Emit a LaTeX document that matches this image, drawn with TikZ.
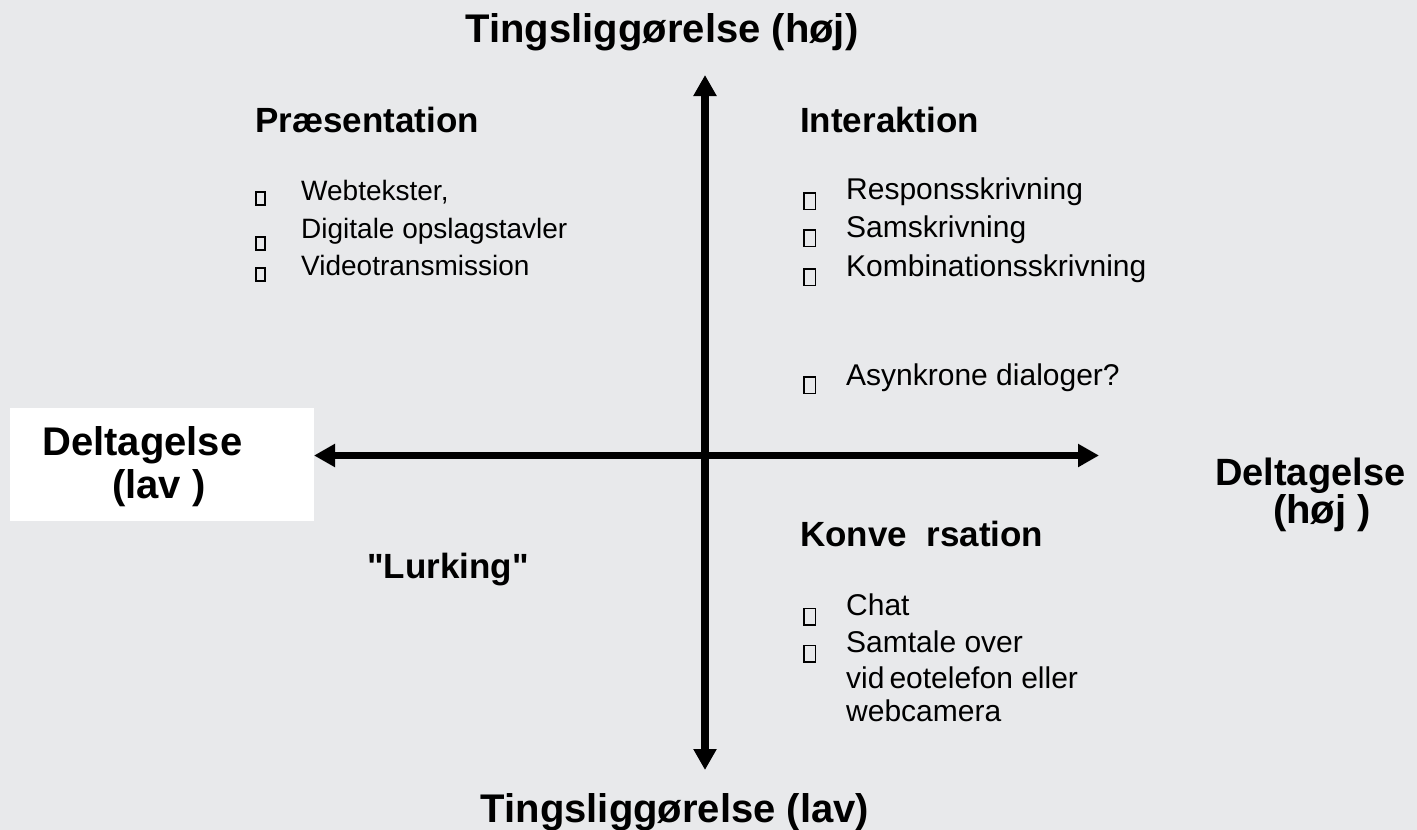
\documentclass[tikz,border=0pt]{standalone}
\usepackage{fontspec}
\setmainfont{Liberation Sans}[Ligatures=TeXOff]
\usetikzlibrary{arrows.meta}
\definecolor{bg}{RGB}{232,233,235}
\begin{document}
\begin{tikzpicture}[x=1pt,y=-1pt,
  big/.style={font=\fontsize{40}{48}\selectfont\bfseries, inner sep=0},
  head/.style={font=\fontsize{35}{42}\selectfont\bfseries, inner sep=0, anchor=base west},
  itemL/.style={font=\fontsize{28}{34}\selectfont, inner sep=0, anchor=base west},
  itemR/.style={font=\fontsize{30}{36}\selectfont, inner sep=0, anchor=base west},
  boxL/.style={draw, line width=1.3pt, minimum width=9pt, minimum height=13pt, inner sep=0},
  boxR/.style={draw, line width=1.5pt, minimum width=11.5pt, minimum height=16.5pt, inner sep=0},
  axis/.style={line width=7.5pt, {Triangle[length=21pt,width=22pt]}-{Triangle[length=21pt,width=22pt]}}
]
\fill[bg] (0,0) rectangle (1417,830);
\useasboundingbox (0,0) rectangle (1417,830);
\fill[white] (10,408) rectangle (314,521);

% axes
\coordinate (vt) at (705,75);
\coordinate (vb) at (705,770);
\coordinate (hl) at (314,455.5);
\coordinate (hr) at (1099,455.5);
\draw[axis] (vb) -- (vt);
\draw[axis] (hl) -- (hr);

% axis labels
\node[big, anchor=base] (ttop) at (662,42) {Tingsliggørelse (høj)};
\node[big, anchor=base] (tbot) at (675,822) {Tingsliggørelse (lav)};
\node[big, anchor=base west] (dl1) at (42,455) {Deltagelse};
\node[big, anchor=base west] (dl2) at (112,498) {(lav )};
\node[big, anchor=base west, font=\fontsize{38}{46}\selectfont\bfseries] (dr1) at (1215,485) {Deltagelse};
\node[big, anchor=base west] (dr2) at (1273,523) {(høj )};

% Praesentation
\node[head] (hp) at (255,132) {Præsentation};
\node[boxL] (bp1) at (260.5,198.5) {};
\node[boxL] (bp2) at (260.5,243.5) {};
\node[boxL] (bp3) at (260.5,274.5) {};
\node[itemL] (ip1) at (301,200) {Webtekster,};
\node[itemL] (ip2) at (301,238) {Digitale opslagstavler};
\node[itemL] (ip3) at (301,275) {Videotransmission};

% Interaktion
\node[head] (hi) at (800,132) {Interaktion};
\node[boxR] (bi1) at (809.5,201) {};
\node[boxR] (bi2) at (809.5,238) {};
\node[boxR] (bi3) at (809.5,277) {};
\node[boxR] (bi4) at (809.5,385) {};
\node[itemR] (ii1) at (846,199) {Responsskrivning};
\node[itemR] (ii2) at (846,237) {Samskrivning};
\node[itemR] (ii3) at (846,276) {Kombinationsskrivning};
\node[itemR] (ii4) at (846,385) {Asynkrone dialoger?};

% Konversation
\node[head] (hk) at (800,546) {Konve\ \ rsation};
\node[boxR] (bk1) at (809.5,616.5) {};
\node[boxR] (bk2) at (809.5,653.5) {};
\node[itemR] (ik1) at (846,615) {Chat};
\node[itemR] (ik2) at (846,652) {Samtale over};
\node[itemR] (ik3) at (846,688) {vid\,eotelefon eller};
\node[itemR] (ik4) at (846,721) {webcamera};

% Lurking
\node[head] (hl2) at (367,578) {"Lurking"};
\end{tikzpicture}
\end{document}
